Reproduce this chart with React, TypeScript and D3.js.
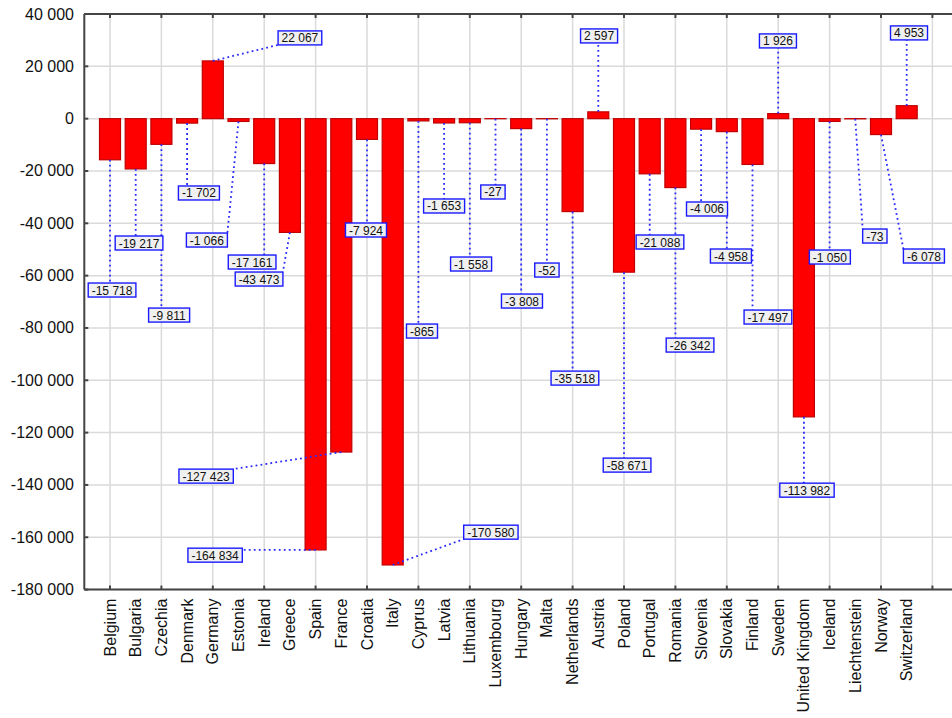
import * as d3 from "d3";

const COUNTRIES = [
  "Belgium", "Bulgaria", "Czechia", "Denmark", "Germany", "Estonia", "Ireland", "Greece",
  "Spain", "France", "Croatia", "Italy", "Cyprus", "Latvia", "Lithuania", "Luxembourg",
  "Hungary", "Malta", "Netherlands", "Austria", "Poland", "Portugal", "Romania", "Slovenia",
  "Slovakia", "Finland", "Sweden", "United Kingdom", "Iceland", "Liechtenstein", "Norway", "Switzerland",
];

const VALUES = [
  -15718, -19217, -9811, -1702, 22067, -1066, -17161, -43473,
  -164834, -127423, -7924, -170580, -865, -1653, -1558, -27,
  -3808, -52, -35518, 2597, -58671, -21088, -26342, -4006,
  -4958, -17497, 1926, -113982, -1050, -73, -6078, 4953,
];

// where each value label sits, in axis units (category position, value)
const LABEL_X = [
  1.08, 2.13, 3.3, 4.46, 8.39, 4.77, 6.53, 6.8,
  5.09, 4.74, 10.96, 15.82, 13.14, 14.0, 15.05, 15.9,
  17.03, 18.0, 19.09, 20.03, 21.12, 22.4, 23.57, 24.23,
  25.16, 26.6, 26.99, 28.12, 29.01, 30.76, 32.67, 32.09,
];
const LABEL_Y = [
  -65500, -47530, -75070, -28410, 30860, -46390, -54800, -61300,
  -166840, -136630, -42560, -158050, -81180, -33380, -55560, -28030,
  -69710, -57860, -99160, 31620, -132420, -47150, -86540, -34530,
  -52500, -75830, 29710, -141990, -52890, -44860, -52500, 32770,
];

const Y_TICKS = [40000, 20000, 0, -20000, -40000, -60000, -80000, -100000, -120000, -140000, -160000, -180000];

const W = 952;
const H = 718;
const LEFT = 84.3;
const RIGHT = 932.4;
const TOP = 14;
const BOTTOM = 589.6;
const BAR_W = 21;

const fmt = (v: number) => {
  const s = d3.format(",")(Math.abs(v)).replace(/,/g, " ");
  return (v < 0 ? "-" : "") + s;
};

const textWidth = (s: string, size: number) => {
  let w = 0;
  for (const ch of s) {
    if (ch === " ") w += 0.278;
    else if (ch === "-") w += 0.333;
    else w += 0.556;
  }
  return w * size;
};

export default function App() {
  const x = d3.scaleLinear().domain([0, COUNTRIES.length + 1]).range([LEFT, RIGHT]);
  const y = d3.scaleLinear().domain([-180000, 40000]).range([BOTTOM, TOP]);

  const gridX = d3.range(1, COUNTRIES.length + 2, 2);
  const font = "Arial, 'Liberation Sans', sans-serif";

  const labels = VALUES.map((v, i) => {
    const text = fmt(v);
    const bw = textWidth(text, 12) + 7;
    const bh = 14;
    const cx = x(LABEL_X[i]);
    const cy = y(LABEL_Y[i]);
    const bx = cx - bw / 2;
    const by = cy - bh / 2;
    const ax = x(i + 1);
    const ay = y(v);
    const px = Math.max(bx, Math.min(bx + bw, ax));
    const py = Math.max(by, Math.min(by + bh, ay));
    return { text, bw, bh, bx, by, ax, ay, px, py };
  });

  return (
    <svg
      width={W}
      height={H}
      style={{ position: "absolute", left: 0, top: 0, background: "#fff" }}
      fontFamily={font}
    >
      {/* grid */}
      {Y_TICKS.map((t) => (
        <line key={"gy" + t} x1={LEFT} x2={W} y1={y(t)} y2={y(t)} stroke="#dadada" strokeWidth={1.5} />
      ))}
      {gridX.map((g) => (
        <line key={"gx" + g} x1={x(g)} x2={x(g)} y1={TOP} y2={BOTTOM} stroke="#dadada" strokeWidth={1.5} />
      ))}

      {/* bars */}
      {VALUES.map((v, i) => (
        <rect
          key={COUNTRIES[i]}
          x={x(i + 1) - BAR_W / 2}
          y={Math.min(y(v), y(0))}
          width={BAR_W}
          height={Math.abs(y(v) - y(0))}
          fill="#ff0000"
          stroke="#c00000"
          strokeWidth={1.2}
        />
      ))}

      {/* axes */}
      <line x1={LEFT} x2={LEFT} y1={TOP} y2={BOTTOM} stroke="#444" strokeWidth={2} />
      <line x1={LEFT} x2={W} y1={TOP} y2={TOP} stroke="#444" strokeWidth={2} />
      <line x1={LEFT} x2={W} y1={BOTTOM} y2={BOTTOM} stroke="#444" strokeWidth={2} />
      {Y_TICKS.map((t) => (
        <g key={"ty" + t}>
          <line x1={LEFT} x2={LEFT + 4} y1={y(t)} y2={y(t)} stroke="#444" strokeWidth={2} />
          <text x={74} y={y(t)} textAnchor="end" dominantBaseline="central" fontSize={16} fill="#111">
            {fmt(t)}
          </text>
        </g>
      ))}
      {gridX.map((g) => (
        <g key={"tx" + g}>
          <line x1={x(g)} x2={x(g)} y1={TOP} y2={TOP + 4} stroke="#444" strokeWidth={2} />
          <line x1={x(g)} x2={x(g)} y1={BOTTOM} y2={BOTTOM - 4} stroke="#444" strokeWidth={2} />
        </g>
      ))}
      {COUNTRIES.map((c, i) => (
        <text
          key={"xl" + c}
          transform={`translate(${x(i + 1)},${BOTTOM + 9}) rotate(-90)`}
          textAnchor="end"
          dominantBaseline="central"
          fontSize={16}
          fill="#111"
        >
          {c}
        </text>
      ))}

      {/* value labels */}
      {labels.map((l, i) => (
        <line
          key={"ld" + i}
          x1={l.ax}
          y1={l.ay}
          x2={l.px}
          y2={l.py}
          stroke="#2a2aff"
          strokeWidth={1.8}
          strokeDasharray="1.8 3.2"
        />
      ))}
      {labels.map((l, i) => (
        <g key={"lb" + i}>
          <rect x={l.bx} y={l.by} width={l.bw} height={l.bh} fill="#f0f0f0" stroke="#1a1aff" strokeWidth={1.4} />
          <text
            x={l.bx + l.bw / 2}
            y={l.by + l.bh / 2 + 0.5}
            textAnchor="middle"
            dominantBaseline="central"
            fontSize={12}
            fill="#111"
          >
            {l.text}
          </text>
        </g>
      ))}
    </svg>
  );
}
